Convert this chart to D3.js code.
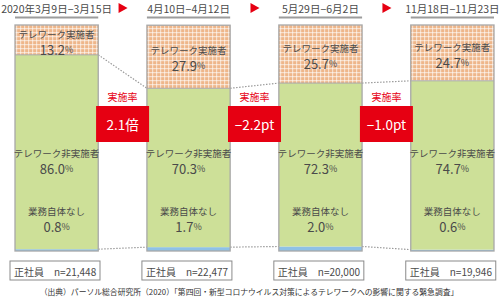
<!DOCTYPE html>
<html>
<head>
<meta charset="utf-8">
<script src="https://cdn.jsdelivr.net/npm/d3@7"></script>
<style>
  body { margin: 0; background: #fff; }
  text { font-family: "Noto Sans CJK JP", "Noto Sans", sans-serif; }
</style>
</head>
<body>
<div id="chart"></div>
<script>

// survey periods
var periods = ["2020年3月9日−3月15日", "4月10日−4月12日", "5月29日−6月2日", "11月18日−11月23日"]

// shares (%)
var telework = [13.2, 27.9, 25.7, 24.7]
var nonTelework = [86.0, 70.3, 72.3, 74.7]
var noWork = [0.8, 1.7, 2.0, 0.6]

var sampleN = ["21,448", "22,477", "20,000", "19,946"]
var changes = ["2.1倍", "−2.2pt", "−1.0pt"]

var width = 500, height = 307
var grey = "#4a4a4a"
var red = "#e60012"

var svg = d3.select("#chart")
  .append("svg")
  .attr("width", width)
  .attr("height", height)

// checkered fill for the telework segment
var defs = svg.append("defs")
var pat = defs.append("pattern")
  .attr("id", "check")
  .attr("patternUnits", "userSpaceOnUse")
  .attr("width", 4)
  .attr("height", 4)
pat.append("rect").attr("width", 4).attr("height", 4).attr("fill", "#eeb68a")
pat.append("rect").attr("x", 0).attr("y", 0).attr("width", 4).attr("height", 1.2).attr("fill", "#fff").attr("opacity", 0.55)
pat.append("rect").attr("x", 0).attr("y", 0).attr("width", 1.2).attr("height", 4).attr("fill", "#fff").attr("opacity", 0.55)

var x = d3.scaleBand()
  .domain(periods)
  .range([15, 494])
  .paddingInner(0.369)
  .paddingOuter(0)

var y = d3.scaleLinear()
  .domain([0, 100])
  .range([251, 25])

// build stacked data: bottom -> top
var data = periods.map(function (p, i) {
  return { period: p, i: i, noWork: noWork[i], nonTelework: nonTelework[i], telework: telework[i] }
})
var keys = ["noWork", "nonTelework", "telework"]
var fills = { noWork: "#8ec1e6", nonTelework: "#cde098", telework: "url(#check)" }
var series = d3.stack().keys(keys)(data)

// dotted connectors between bars
var conn = svg.append("g")
  .attr("fill", "none")
  .attr("stroke", "#9a9a9a")
  .attr("stroke-width", 1.2)
  .attr("stroke-dasharray", "1.5,1.5")
d3.range(periods.length - 1).forEach(function (i) {
  var a = data[i], b = data[i + 1]
  var xa = x(a.period) + x.bandwidth(), xb = x(b.period)
  conn.append("line")
    .attr("x1", xa).attr("x2", xb)
    .attr("y1", y(a.noWork + a.nonTelework)).attr("y2", y(b.noWork + b.nonTelework))
  conn.append("line")
    .attr("x1", xa).attr("x2", xb)
    .attr("y1", y(a.noWork)).attr("y2", y(b.noWork))
})

// bars
svg.append("g")
  .selectAll("g")
  .data(series)
  .enter().append("g")
  .attr("fill", function (s) { return fills[s.key] })
  .selectAll("rect")
  .data(function (s) { return s })
  .enter().append("rect")
  .attr("x", function (d) { return x(d.data.period) })
  .attr("width", x.bandwidth())
  .attr("y", function (d) { return y(d[1]) })
  .attr("height", function (d) { return y(d[0]) - y(d[1]) })

// bar outlines
svg.append("g")
  .selectAll("rect")
  .data(data)
  .enter().append("rect")
  .attr("x", function (d) { return x(d.period) })
  .attr("width", x.bandwidth())
  .attr("y", function (d) { return y(d.noWork + d.nonTelework + d.telework) })
  .attr("height", function (d) { return y(0) - y(d.noWork + d.nonTelework + d.telework) })
  .attr("fill", "none")
  .attr("stroke", "#a8a8a8")
  .attr("stroke-width", 1.3)
svg.append("g")
  .selectAll("line")
  .data(data)
  .enter().append("line")
  .attr("x1", function (d) { return x(d.period) })
  .attr("x2", function (d) { return x(d.period) + x.bandwidth() })
  .attr("y1", function (d) { return y(d.noWork + d.nonTelework) })
  .attr("y2", function (d) { return y(d.noWork + d.nonTelework) })
  .attr("stroke", "#a8a8a8")
  .attr("stroke-width", 1)

// segment labels
function label(g, cx, cy, title, value) {
  g.append("text")
    .attr("x", cx).attr("y", cy - 7)
    .attr("text-anchor", "middle")
    .attr("dominant-baseline", "central")
    .attr("font-size", 9.5)
    .attr("fill", grey)
    .text(title)
  var t = g.append("text")
    .attr("x", cx).attr("y", cy + 8)
    .attr("text-anchor", "middle")
    .attr("dominant-baseline", "central")
    .attr("fill", grey)
  t.append("tspan").attr("font-size", 13).text(value.toFixed(1))
  t.append("tspan").attr("font-size", 9).text("%")
}

var labels = svg.append("g")
data.forEach(function (d) {
  var cx = x(d.period) + x.bandwidth() / 2
  var top = y(d.noWork + d.nonTelework + d.telework)
  var mid = y(d.noWork + d.nonTelework)
  label(labels, cx, Math.min((top + mid) / 2 + 1, 57), "テレワーク実施者", d.telework)
  label(labels, cx, 160, "テレワーク非実施者", d.nonTelework)
  label(labels, cx, 218, "業務自体なし", d.noWork)
})

// period headers
var head = svg.append("g")
head.selectAll("text")
  .data(periods)
  .enter().append("text")
  .attr("x", function (d) { return x(d) + x.bandwidth() / 2 })
  .attr("y", 8)
  .attr("text-anchor", "middle")
  .attr("dominant-baseline", "central")
  .attr("font-size", 10.5)
  .attr("fill", grey)
  .text(function (d) { return d })
head.selectAll("line")
  .data(periods)
  .enter().append("line")
  .attr("x1", function (d) { return x(d) })
  .attr("x2", function (d) { return x(d) + x.bandwidth() })
  .attr("y1", 17.5).attr("y2", 17.5)
  .attr("stroke", "#9c9c9c")
  .attr("stroke-width", 1.8)

// arrows + change callouts in the gaps
var gap = svg.append("g")
changes.forEach(function (c, i) {
  var gx = (x(periods[i]) + x.bandwidth() + x(periods[i + 1])) / 2
  gap.append("path")
    .attr("d", "M" + (gx - 4) + ",3 L" + (gx + 5) + ",8 L" + (gx - 4) + ",13 Z")
    .attr("fill", red)
  gap.append("text")
    .attr("x", gx).attr("y", 96)
    .attr("text-anchor", "middle")
    .attr("dominant-baseline", "central")
    .attr("font-size", 10)
    .attr("fill", red)
    .text("実施率")
  gap.append("rect")
    .attr("x", gx - 26.5).attr("y", 106)
    .attr("width", 53).attr("height", 36)
    .attr("fill", red)
  gap.append("text")
    .attr("x", gx).attr("y", 124)
    .attr("text-anchor", "middle")
    .attr("dominant-baseline", "central")
    .attr("font-size", 13.5)
    .attr("fill", "#fff")
    .text(c)
})

// sample size boxes
var nb = svg.append("g")
sampleN.forEach(function (n, i) {
  var bx = x(periods[i]) - 5
  nb.append("rect")
    .attr("x", bx).attr("y", 261)
    .attr("width", 90).attr("height", 19)
    .attr("fill", "#fff")
    .attr("stroke", "#8a8a8a")
    .attr("stroke-width", 1)
  nb.append("text")
    .attr("x", bx + 4).attr("y", 271)
    .attr("dominant-baseline", "central")
    .attr("font-size", 10)
    .attr("fill", grey)
    .text("正社員　n=" + n)
})

// source
svg.append("text")
  .attr("x", 249).attr("y", 291)
  .attr("text-anchor", "middle")
  .attr("dominant-baseline", "central")
  .attr("font-size", 7.8)
  .attr("fill", "#333")
  .text("（出典）パーソル総合研究所（2020）「第四回・新型コロナウイルス対策によるテレワークへの影響に関する緊急調査」")

</script>
</body>
</html>
